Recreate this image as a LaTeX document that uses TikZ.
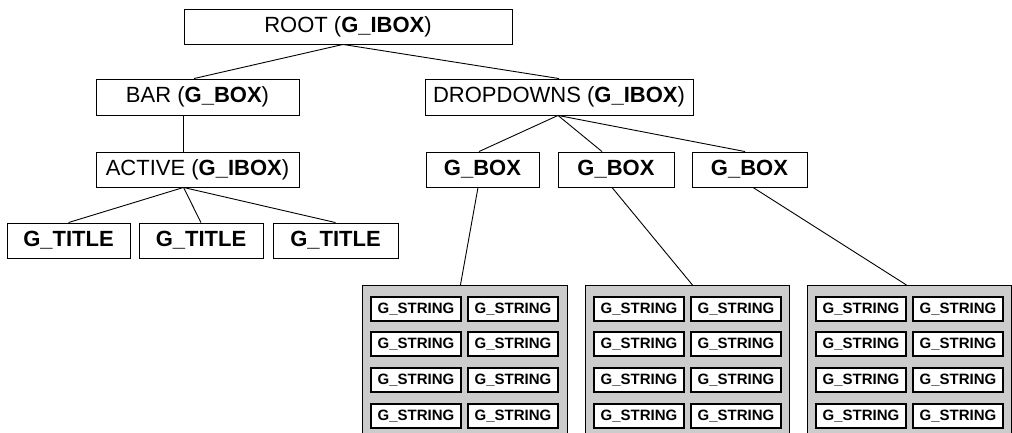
\documentclass[tikz,border=0pt]{standalone}
\usepackage{fontspec}
\setmainfont{Liberation Sans}
\definecolor{panel}{RGB}{204,204,204}
\begin{document}
\begin{tikzpicture}[x=1pt,y=-1pt,
  box/.style={draw,line width=0.9pt,fill=white,inner sep=0pt,minimum height=35pt,
    font=\fontsize{22}{26}\selectfont},
  boldbox/.style={box,font=\fontsize{22}{26}\selectfont\bfseries},
  strbox/.style={draw,line width=1.1pt,fill=white,inner sep=0pt,minimum width=90pt,
    minimum height=24pt,font=\fontsize{15}{18}\selectfont\bfseries},
  panelbox/.style={draw,line width=0.9pt,fill=panel,inner sep=0pt,anchor=north west,
    minimum width=205pt,minimum height=170pt},
  link/.style={line width=0.9pt}]
\useasboundingbox (0,0) rectangle (1012,433);
\clip (0,0) rectangle (1012,433);

% upper tree
\node[box,minimum width=328pt] (root) at (348,26.5) {ROOT (\textbf{G\_IBOX})};
\node[box,minimum width=203pt,minimum height=36pt] (bar) at (197.5,97) {BAR (\textbf{G\_BOX})};
\node[box,minimum width=268pt,minimum height=36pt] (dd) at (559,97) {DROPDOWNS (\textbf{G\_IBOX})};
\node[box,minimum width=203pt] (act) at (197.5,169.5) {ACTIVE (\textbf{G\_IBOX})};

\node[boldbox,minimum width=123pt] (t1) at (68.5,240.5) {G\_TITLE};
\node[boldbox,minimum width=124pt] (t2) at (201,240.5) {G\_TITLE};
\node[boldbox,minimum width=125pt] (t3) at (335.5,240.5) {G\_TITLE};

\node[boldbox,minimum width=113pt] (g1) at (482.5,169.5) {G\_BOX};
\node[boldbox,minimum width=116pt] (g2) at (616,169.5) {G\_BOX};
\node[boldbox,minimum width=115pt] (g3) at (749.5,169.5) {G\_BOX};

% grey panels holding the string items
\node[panelbox] (p1) at (362,285) {};
\node[panelbox,minimum width=204pt] (p2) at (585,285) {};
\node[panelbox,minimum width=204pt] (p3) at (807,285) {};

\foreach \p/\x in {p1/362,p2/585,p3/807}{
  \foreach \r/\y in {1/309,2/344,3/380,4/416}{
    \node[strbox] (\p a\r) at (\x+54,\y) {G\_STRING};
    \node[strbox] (\p b\r) at (\x+151,\y) {G\_STRING};
  }
}

% connectors
\draw[link] ([xshift=-5pt]root.south) -- ([xshift=-3.5pt]bar.north);
\draw[link] ([xshift=-5pt]root.south) -- (dd.north);
\draw[link] ([xshift=-14pt]bar.south) -- ([xshift=-14pt]act.north);
\draw[link] ([xshift=-14pt]act.south) -- (t1.north);
\draw[link] ([xshift=-14pt]act.south) -- (t2.north);
\draw[link] ([xshift=-14pt]act.south) -- (t3.north);
\draw[link] ([xshift=-1pt]dd.south) -- ([xshift=-3.5pt]g1.north);
\draw[link] ([xshift=-1pt]dd.south) -- ([xshift=-14pt]g2.north);
\draw[link] ([xshift=-1pt]dd.south) -- ([xshift=-4.5pt]g3.north);
\draw[link] ([xshift=-4.5pt]g1.south) -- ([xshift=-4.5pt]p1.north);
\draw[link] ([xshift=-4pt]g2.south) -- ([xshift=5pt]p2.north);
\draw[link] ([xshift=3.5pt]g3.south) -- ([xshift=-3pt]p3.north);
\end{tikzpicture}
\end{document}
